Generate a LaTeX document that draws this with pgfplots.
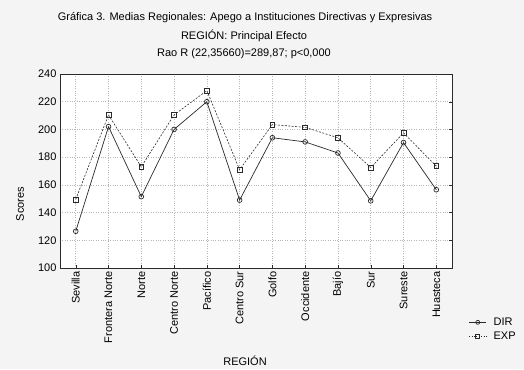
\documentclass[border=0pt]{standalone}
\usepackage{fontspec}
\setmainfont{Liberation Sans}
\usepackage{pgfplots}
\pgfplotsset{compat=1.18}
\usepackage{pgfplotstable}

\definecolor{bggray}{HTML}{F4F4F4}
\definecolor{gridgray}{HTML}{B8B8B8}
\definecolor{linegray}{HTML}{2A2A2A}

% Regional means: x = region index, dir / exp scores
\pgfplotstableread{
x dir exp
0 126.5 149.5
1 202.0 210.5
2 151.5 173.0
3 200.0 210.5
4 220.0 228.0
5 149.0 171.0
6 194.0 203.5
7 191.0 201.5
8 183.0 194.0
9 148.5 172.5
10 190.5 197.5
11 156.5 173.5
}\regiones

\newcommand{\lbl}{\fontsize{11bp}{13bp}\selectfont}

\begin{document}
\begin{tikzpicture}[x=1bp,y=1bp]
\fill[bggray] (0,0) rectangle (524,369);
\path[use as bounding box] (0,0) rectangle (524,369);

\node[font=\lbl] at (245,351) {Gráfica 3. Medias Regionales: Apego a Instituciones Directivas y Expresivas};
\node[font=\lbl] at (244,333) {REGIÓN: Principal Efecto};
\node[font=\lbl] at (244,315) {Rao R (22,35660)=289,87; p<0,000};

\begin{axis}[
  at={(60bp,101bp)}, anchor=south west,
  scale only axis, width=392bp, height=194bp,
  xmin=-0.48, xmax=11.48,
  ymin=100, ymax=240,
  ytick={100,120,...,240},
  xtick={0,...,11},
  xticklabels={Sevilla,Frontera Norte,Norte,Centro Norte,Pacífico,Centro Sur,Golfo,Occidente,Bajío,Sur,Sureste,Huasteca},
  xticklabel style={rotate=90, anchor=east, font=\lbl},
  yticklabel style={font=\lbl},
  /pgf/number format/assume math mode=true,
  axis background/.style={fill=white},
  axis line style={linegray, line width=0.8pt},
  grid=major,
  major grid style={gridgray, dotted, line width=0.5pt},
  tick style={linegray, line width=0.4pt},
  tick align=inside,
  xtick pos=bottom, ytick pos=right,
  yticklabel pos=left,
  major tick length=3pt,
  ylabel={Scores}, xlabel={REGIÓN},
  ylabel style={font=\lbl, at={(axis description cs:-0.102,0.33)}, anchor=center},
  xlabel style={font=\lbl, at={(axis description cs:0.472,-0.479)}, anchor=center},
  legend style={at={(axis description cs:1.035,-0.235)}, anchor=north west,
    draw=none, fill=none, font=\lbl, row sep=1pt,
    /tikz/every odd column/.append style={column sep=5pt}},
  legend cell align=left,
  legend image code/.code={%
    \draw[mark repeat=2, mark phase=2, #1]
      plot coordinates {(0bp,0bp) (8.5bp,0bp) (17bp,0bp)};
  },
]
\addplot[linegray, line width=0.7pt, mark=o, mark size=2.4pt, mark options={fill=white, solid},
  legend image post style={mark size=2pt}]
  table[x=x, y=dir] {\regiones};
\addlegendentry{DIR}
\addplot[linegray, line width=0.6pt, dash pattern=on 2pt off 1.5pt, mark=square, mark size=2.4pt, mark options={fill=white, solid},
  legend image post style={dash pattern=on 0.8pt off 1.6pt, mark size=2pt}]
  table[x=x, y=exp] {\regiones};
\addlegendentry{EXP}
\end{axis}
\end{tikzpicture}
\end{document}
